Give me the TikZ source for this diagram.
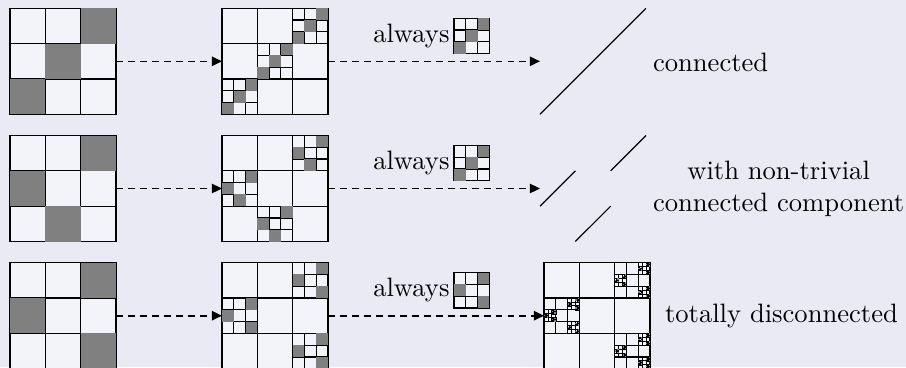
\documentclass[tikz,border=0pt]{standalone}
\usetikzlibrary{arrows.meta}
\definecolor{bgcol}{RGB}{234,234,245}
\definecolor{cellwhite}{RGB}{243,243,250}
\definecolor{cellgray}{RGB}{128,128,128}
\newcommand\carpetcell[4]{%
  \pgfmathsetmacro\cs{#3/3}%
  \pgfmathsetmacro\lw{#3>20 ? 0.45 : (#3>5 ? 0.3 : 0.15)}%
  \draw[line width=\lw pt] (#1,#2) rectangle ++(#3,#3)
    (#1+\cs,#2) -- ++(0,#3) (#1+2*\cs,#2) -- ++(0,#3)
    (#1,#2+\cs) -- ++(#3,0) (#1,#2+2*\cs) -- ++(#3,0);
  \ifnum#4=1
    \foreach \i/\j in \pat {\fill[cellgray] (#1+\i*\cs,#2+\j*\cs) rectangle ++(\cs,\cs);}%
  \else
    \foreach \i/\j in \pat {%
      \pgfmathsetmacro\nx{#1+\i*\cs}%
      \pgfmathsetmacro\ny{#2+\j*\cs}%
      \pgfmathtruncatemacro\nl{#4-1}%
      \edef\carpetnext{\noexpand\carpetcell{\nx}{\ny}{\cs}{\nl}}\carpetnext}%
  \fi}
\newcommand\carpet[4]{% x y size level (top-left corner)
  \fill[cellwhite] (#1,#2) rectangle ++(#3,#3);
  \carpetcell{#1}{#2}{#3}{#4}}
\tikzset{
  box/.style={minimum width=39.856pt, minimum height=39.856pt, inner sep=0pt, outer sep=0pt},
  iconbox/.style={minimum width=13.285pt, minimum height=13.285pt, inner sep=0pt, outer sep=0pt},
  dasharrow/.style={draw, line width=0.6pt, dash pattern=on 2.6pt off 1.9pt, -{Triangle[length=3.8pt,width=3.5pt]}},
  limitline/.style={draw, line width=0.45pt},
  label/.style={inner sep=0pt, font=\normalsize},
}
\begin{document}
\begin{tikzpicture}[x=0.376pt, y=-0.376pt]
\fill[bgcol] (0,0) rectangle (906,367);
\useasboundingbox (0,0) rectangle (906,367);
\clip (0,0) rectangle (906,367);
% ---------- row 1 ----------
\node[box] (r1c1) at (63,61.3) {};
\node[box] (r1c2) at (275,61.3) {};
\node[box] (r1c3) at (593,61.3) {};
\node[iconbox] (i1) at (471.67,35.97) {};
\def\pat{2/0,1/1,0/2}
\carpet{10}{8.3}{106}{1}
\carpet{222}{8.3}{106}{2}
\carpet{454}{18.3}{35.333}{1}
\draw[limitline] (r1c3.south west) -- (r1c3.north east);
\draw[dasharrow] (r1c1.east) -- (r1c2.west);
\draw[dasharrow] (r1c2.east) -- (r1c3.west);
\node[anchor=east, inner sep=1.5pt] (a1) at (i1.west) {always};
\node[label, anchor=base west] (t1) at (652.5,71.5) {connected};
% ---------- row 2 ----------
\node[box] (r2c1) at (63,188.5) {};
\node[box] (r2c2) at (275,188.5) {};
\node[box] (r2c3) at (593,188.5) {};
\node[iconbox] (i2) at (471.67,163.17) {};
\def\pat{2/0,0/1,1/2}
\carpet{10}{135.5}{106}{1}
\carpet{222}{135.5}{106}{2}
\def\pat{2/0,1/1,0/2}
\carpet{454}{145.5}{35.333}{1}
\draw[limitline] (540,206.17) -- (575.33,170.83);
\draw[limitline] (610.67,170.83) -- (646,135.5);
\draw[limitline] (575.33,241.5) -- (610.67,206.17);
\draw[dasharrow] (r2c1.east) -- (r2c2.west);
\draw[dasharrow] (r2c2.east) -- (r2c3.west);
\node[anchor=east, inner sep=1.5pt] (a2) at (i2.west) {always};
\node[label, anchor=west, align=center] (t2) at (652.5,188.5) {with non-trivial\\connected component};
% ---------- row 3 ----------
\node[box] (r3c1) at (63,315.7) {};
\node[box] (r3c2) at (275,315.7) {};
\node[box] (r3c3) at (597,315.7) {};
\node[iconbox] (i3) at (471.67,290.37) {};
\def\pat{2/0,0/1,2/2}
\carpet{10}{262.7}{106}{1}
\carpet{222}{262.7}{106}{2}
\carpet{544}{262.7}{106}{4}
\carpet{454}{272.7}{35.333}{1}
\draw[dasharrow] (r3c1.east) -- (r3c2.west);
\draw[dasharrow] (r3c2.east) -- (r3c3.west);
\node[anchor=east, inner sep=1.5pt] (a3) at (i3.west) {always};
\node[label, anchor=west] (t3) at (664.5,315.7) {totally disconnected};
\end{tikzpicture}
\end{document}
